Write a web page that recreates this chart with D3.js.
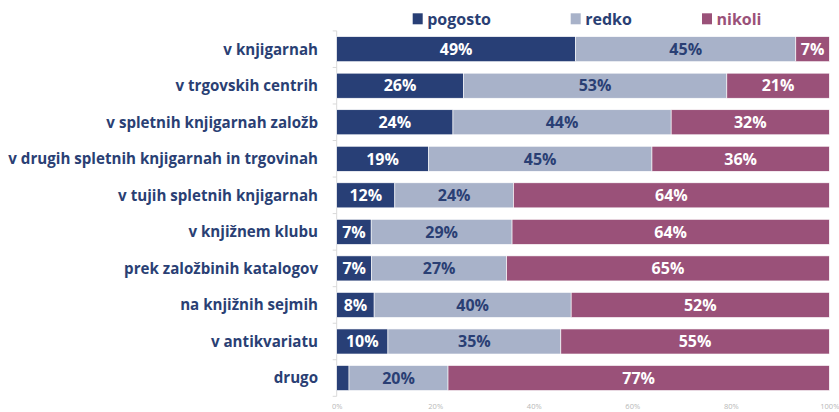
<!DOCTYPE html>
<html><head><meta charset="utf-8">
<script src="https://cdn.jsdelivr.net/npm/d3@7"></script>
<style>
html,body{margin:0;padding:0;background:#fff;}
svg{display:block;font-family:"Open Sans",sans-serif;}
</style></head>
<body>
<svg id="chart" width="839" height="412"></svg>
<script>
const categories = ["v knjigarnah","v trgovskih centrih","v spletnih knjigarnah založb","v drugih spletnih knjigarnah in trgovinah","v tujih spletnih knjigarnah","v knjižnem klubu","prek založbinih katalogov","na knjižnih sejmih","v antikvariatu","drugo"];
const seriesNames = ["pogosto","redko","nikoli"];
const pogosto = [48.5,25.7,23.6,18.6,11.8,7.0,7.1,7.6,10.4,2.5];
const redko   = [44.7,53.5,44.3,45.4,24.1,28.6,27.4,40.0,35.1,20.1];
const nikoli  = [6.8,20.8,32.1,36.0,64.1,64.4,65.5,52.4,54.5,77.4];
const pogostoLabels = ["49%","26%","24%","19%","12%","7%","7%","8%","10%",""];
const redkoLabels   = ["45%","53%","44%","45%","24%","29%","27%","40%","35%","20%"];
const nikoliLabels  = ["7%","21%","32%","36%","64%","64%","65%","52%","55%","77%"];
const xTicks = [0,20,40,60,80,100];

const colors = ["#283f76","#a8b2c9","#9a5179"];
const labelColors = ["#ffffff","#2a3f74","#ffffff"];
const legendTextColors = ["#2a3f74","#2a3f74","#9a5179"];

const svg = d3.select("#chart");
const x = d3.scaleLinear().domain([0,100]).range([336.7,829.3]);
const y = d3.scaleBand().domain(categories).range([30.9,396.3]).paddingInner(0.315).paddingOuter(0.1575);

const rows = categories.map((c,i)=>({cat:c, vals:[pogosto[i],redko[i],nikoli[i]], labels:[pogostoLabels[i],redkoLabels[i],nikoliLabels[i]]}));

// y axis line and tick marks at band boundaries
const step = y.step();
const y0 = y.range()[0];
const bounds = d3.range(categories.length+1).map(i=>y0+i*step);
svg.append("line").attr("x1",x(0)).attr("x2",x(0)).attr("y1",bounds[0]).attr("y2",bounds[bounds.length-1]).attr("stroke","#d9d9d9").attr("stroke-width",1);
svg.selectAll(".ytick").data(bounds).join("line").attr("class","ytick")
  .attr("x1",x(0)-4).attr("x2",x(0)).attr("y1",d=>d).attr("y2",d=>d).attr("stroke","#d9d9d9");

// bars
rows.forEach(r=>{
  let cum=0;
  const segs = r.vals.map((v,k)=>{const s={x0:cum,x1:cum+v,k,label:r.labels[k]}; cum+=v; return s;});
  const g = svg.append("g");
  g.selectAll("rect").data(segs).join("rect")
    .attr("x",d=>x(d.x0)).attr("width",d=>x(d.x1)-x(d.x0))
    .attr("y",y(r.cat)).attr("height",y.bandwidth())
    .attr("fill",d=>colors[d.k]).attr("stroke","#ffffff").attr("stroke-width",0.6);
  g.selectAll("text").data(segs.filter(d=>d.label)).join("text")
    .attr("x",d=>(x(d.x0)+x(d.x1))/2).attr("y",y(r.cat)+y.bandwidth()/2)
    .attr("dy","0.36em").attr("text-anchor","middle")
    .attr("font-size",16).attr("font-weight",700)
    .attr("fill",d=>labelColors[d.k]).text(d=>d.label);
});

// category labels
const cats = svg.selectAll(".cat").data(categories).join("text").attr("class","cat")
  .attr("x",318).attr("y",d=>y(d)+y.bandwidth()/2).attr("dy","0.36em")
  .attr("text-anchor","end").attr("font-size",14).attr("font-weight",700)
  .attr("fill","#2a3f74").text(d=>d);
let maxW = 0;
cats.each(function(){maxW = Math.max(maxW, this.getComputedTextLength());});
const fs = 14*310/maxW;
cats.attr("font-size",fs);

// x axis
const xAxis = d3.axisBottom(x).tickValues(xTicks).tickFormat(d=>d+"%").tickSize(0);
const ax = svg.append("g").attr("transform","translate(0,400)").call(xAxis);
ax.select(".domain").remove();
ax.selectAll("text").attr("font-family","Open Sans, sans-serif").attr("font-size",7.5).attr("fill","#b8b8b8").attr("dy","0.71em").attr("y",4);

// legend
const legendX = [412.7,570.7,702];
const lg = svg.selectAll(".leg").data(seriesNames).join("g").attr("class","leg")
  .attr("transform",(d,i)=>`translate(${legendX[i]},0)`);
lg.append("rect").attr("x",0).attr("y",13.3).attr("width",10).attr("height",11).attr("fill",(d,i)=>colors[i]);
lg.append("text").attr("x",14.5).attr("y",19).attr("dy","0.36em").attr("font-size",16).attr("font-weight",700)
  .attr("fill",(d,i)=>legendTextColors[i]).text(d=>d);
</script>
</body></html>
